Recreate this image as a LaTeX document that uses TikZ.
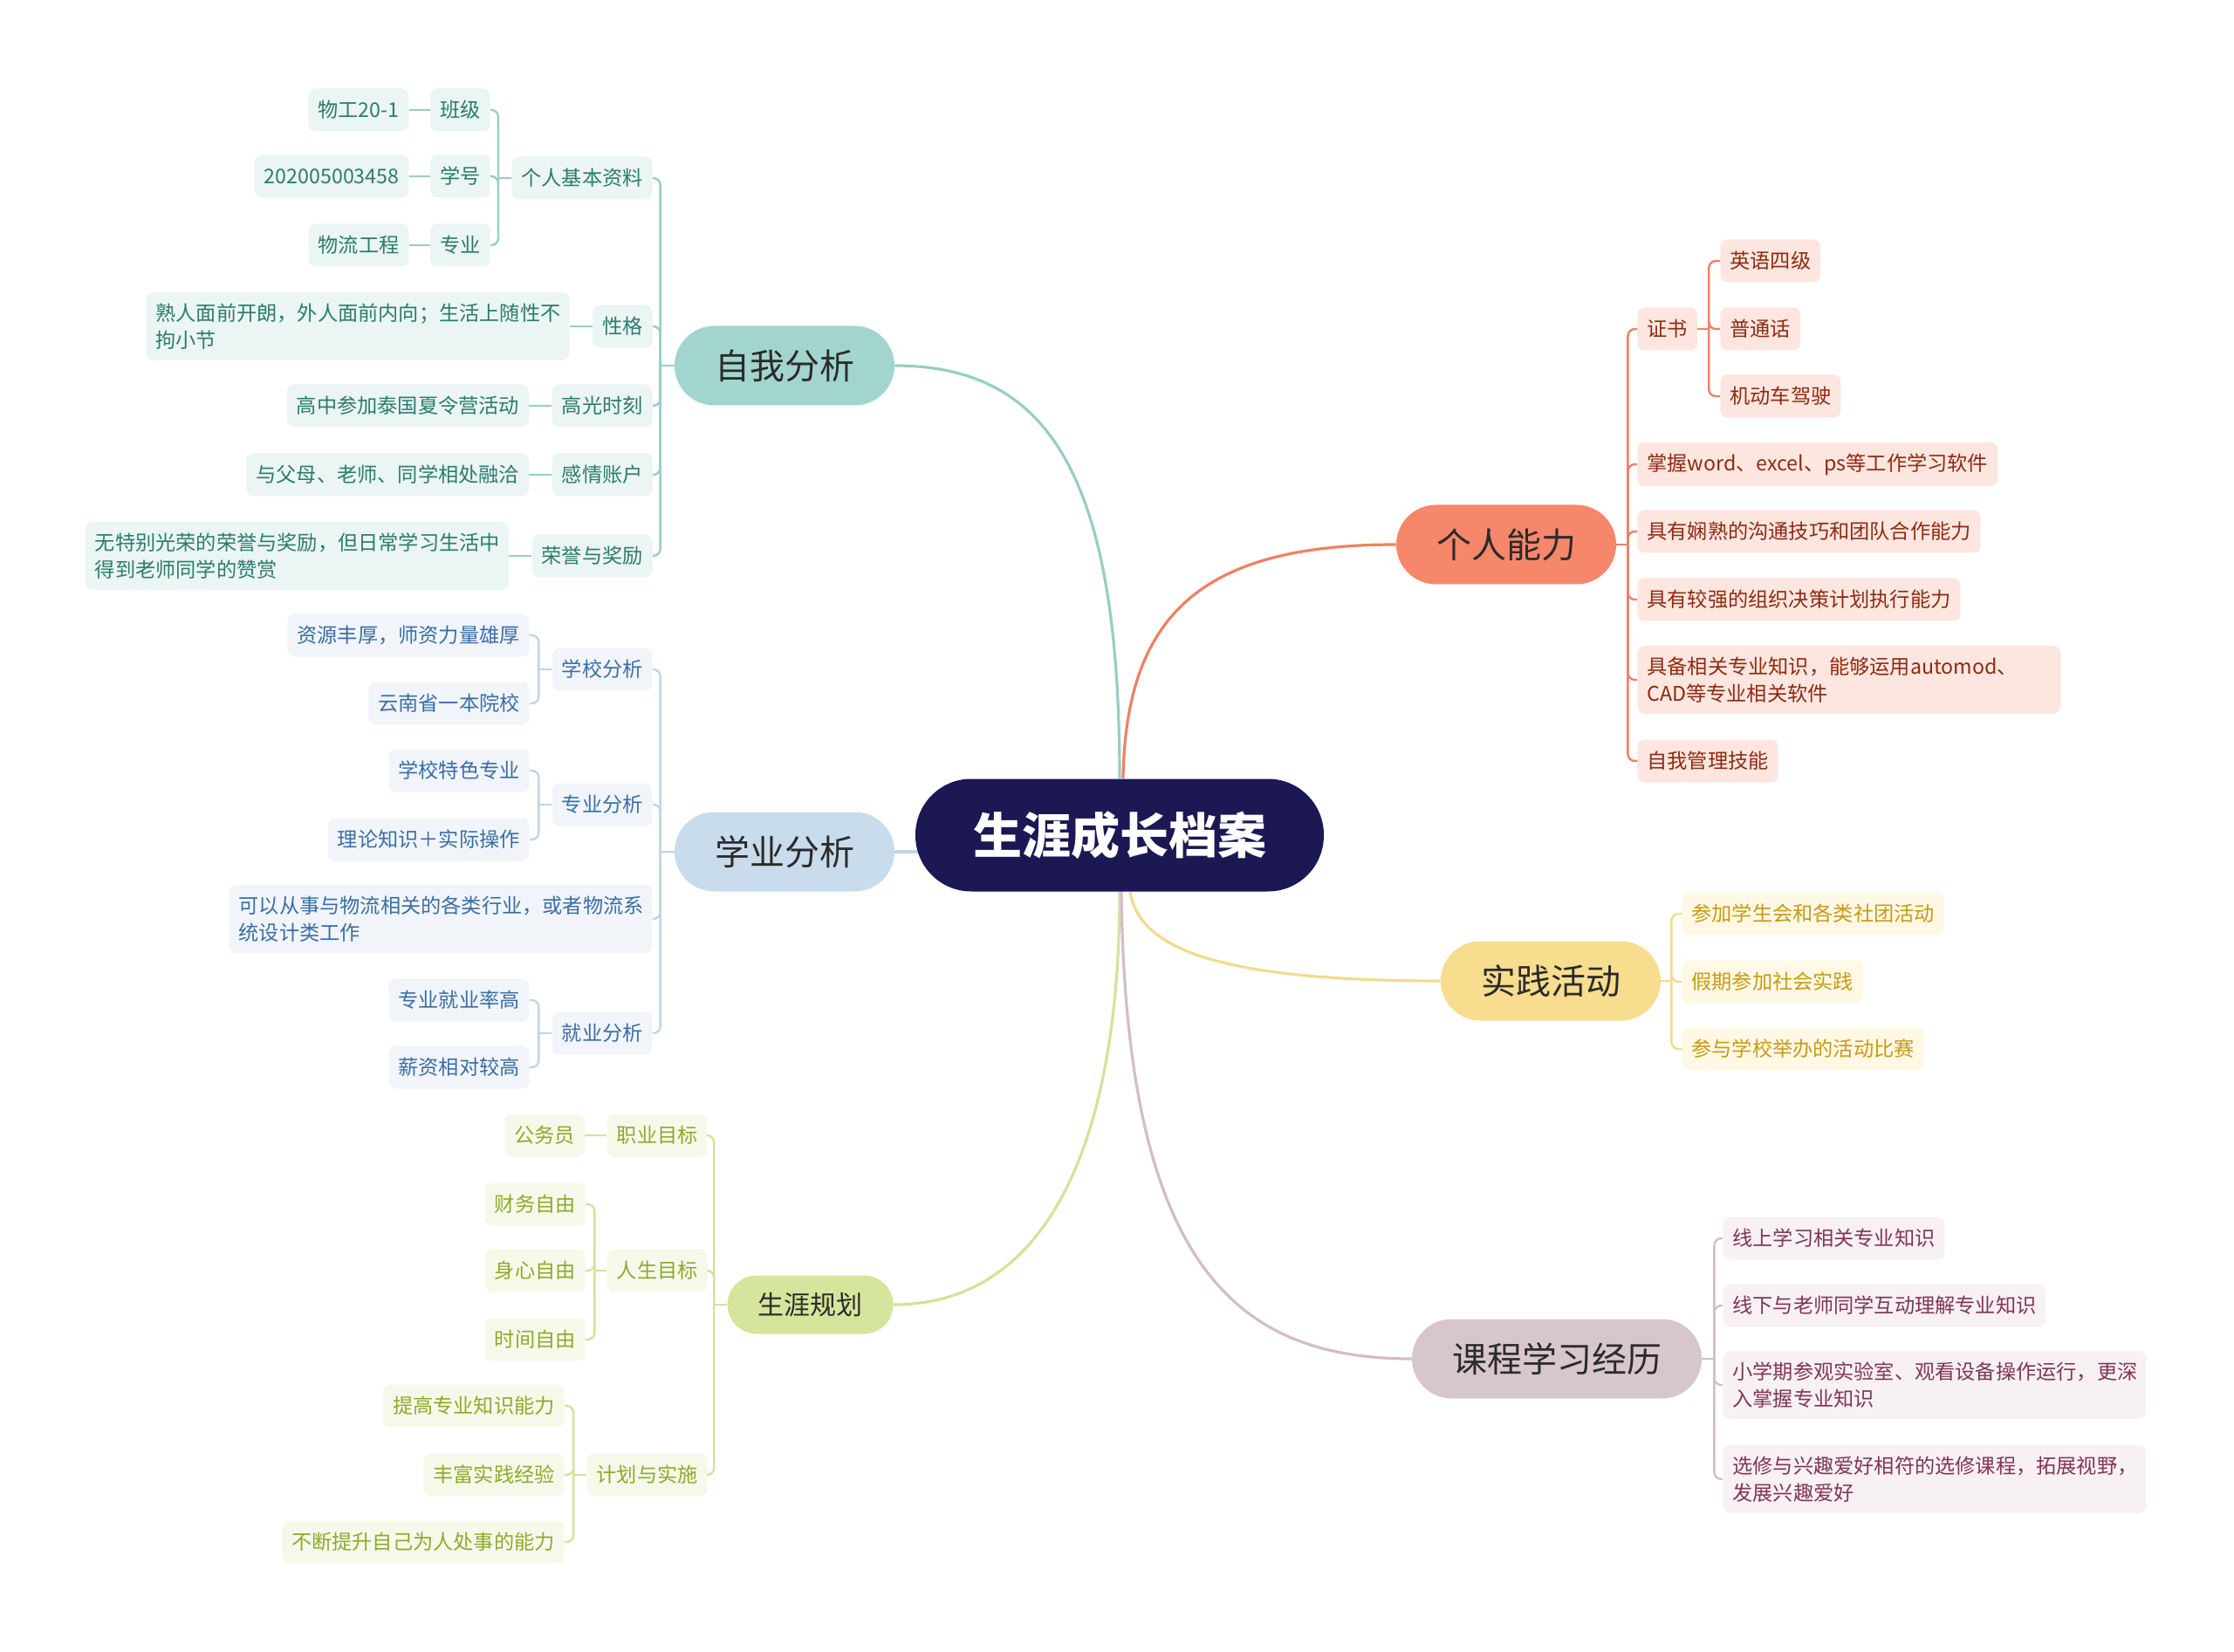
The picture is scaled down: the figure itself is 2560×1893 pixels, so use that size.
\documentclass[tikz,border=0pt]{standalone}
\usepackage{fontspec}
\setmainfont{Noto Sans CJK SC}
\usetikzlibrary{positioning,backgrounds}
\definecolor{rootfill}{HTML}{1B1854}
\definecolor{inkgrey}{HTML}{2B2B2B}
% self analysis (teal)
\definecolor{zwmain}{HTML}{A3D5CF}
\definecolor{zwline}{HTML}{96CEC7}
\definecolor{zwfill}{HTML}{EBF5F3}
\definecolor{zwtext}{HTML}{2B7C6F}
% study analysis (blue)
\definecolor{xymain}{HTML}{C8DCEC}
\definecolor{xyline}{HTML}{C0D5E8}
\definecolor{xyfill}{HTML}{F1F5FA}
\definecolor{xytext}{HTML}{3A6EA5}
% career planning (green)
\definecolor{ghmain}{HTML}{D5E59B}
\definecolor{ghline}{HTML}{D3E39A}
\definecolor{ghfill}{HTML}{F6F9EA}
\definecolor{ghtext}{HTML}{8DAA2C}
% ability (orange)
\definecolor{nlmain}{HTML}{F7876A}
\definecolor{nlline}{HTML}{EE8164}
\definecolor{nlfill}{HTML}{FCE6DF}
\definecolor{nltext}{HTML}{8E2A12}
% practice (yellow)
\definecolor{sjmain}{HTML}{F8DD8F}
\definecolor{sjline}{HTML}{F3DA8C}
\definecolor{sjfill}{HTML}{FEF8E5}
\definecolor{sjtext}{HTML}{C99A14}
% courses (mauve)
\definecolor{kcmain}{HTML}{D8C6CF}
\definecolor{kcline}{HTML}{D2BDC8}
\definecolor{kcfill}{HTML}{F7F1F4}
\definecolor{kctext}{HTML}{803558}
\tikzset{
  root/.style={fill=rootfill,text=white,rounded corners=32pt,minimum height=64.5pt,
               inner xsep=33pt,font=\fontsize{28pt}{32pt}\selectfont\bfseries},
  topic/.style={rounded corners=22.75pt,minimum height=45.5pt,inner xsep=23pt,
                text=inkgrey,font=\fontsize{20pt}{24pt}\selectfont},
  subtopic/.style={rounded corners=16.75pt,minimum height=33.5pt,inner xsep=17.5pt,
                   text=inkgrey,font=\fontsize{15pt}{18pt}\selectfont},
  leaf/.style={rounded corners=4pt,minimum height=24.5pt,inner xsep=5.5pt,inner ysep=6.3pt,
               align=left,font=\fontsize{11.6pt}{15.5pt}\selectfont},
  wide/.style={text width=231.5pt},
  zw/.style={leaf,fill=zwfill,text=zwtext},
  xy/.style={leaf,fill=xyfill,text=xytext},
  gh/.style={leaf,fill=ghfill,text=ghtext},
  nl/.style={leaf,fill=nlfill,text=nltext},
  sj/.style={leaf,fill=sjfill,text=sjtext},
  kc/.style={leaf,fill=kcfill,text=kctext},
  trunk/.style={line width=1.6pt},
  link/.style={line width=1.2pt},
  elbow/.style={link,rounded corners=4pt},
}

\begin{document}
\begin{tikzpicture}[x=0.5pt,y=-0.5pt]
  \useasboundingbox (0,0) rectangle (2560,1893);

  % centre and main topics
  \node[root] (root) at (1283,957) {生涯成长档案};
  \node[topic,fill=zwmain] (ziwo) at (899,419) {自我分析};
  \node[topic,fill=xymain] (xueye) at (899,976) {学业分析};
  \node[subtopic,fill=ghmain,anchor=east] (guihua) at (1024,1495) {生涯规划};
  \node[topic,fill=nlmain] (nengli) at (1726,624) {个人能力};
  \node[topic,fill=sjmain] (shijian) at (1777,1124) {实践活动};
  \node[topic,fill=kcmain] (kecheng) at (1784,1557) {课程学习经历};

  \begin{scope}[on background layer]
    \draw[trunk,zwline] (root.north) .. controls +(0,-350) and +(175,0) .. (ziwo.east);
    \draw[trunk,nlline] ([xshift=2pt]root.north) .. controls +(3,-190) and +(-220,0) .. (nengli.west);
    \draw[trunk,xyline] (xueye.east) -- (xueye.east -| root.center);
    \draw[trunk,ghline] (root.south) .. controls +(0,280) and +(180,0) .. (guihua.east);
    \draw[trunk,sjline] ([xshift=6pt]root.south) .. controls +(10,60) and +(-270,0) .. (shijian.west);
    \draw[trunk,kcline] ([xshift=1pt]root.south) .. controls +(5,430) and +(-200,0) .. (kecheng.west);
  \end{scope}

  % self analysis
  \node[zw,anchor=east] (jbzl) at (748,204) {个人基本资料};
  \node[zw,anchor=east] (xingge) at (748,374) {性格};
  \node[zw,anchor=east] (gaoguang) at (748,465) {高光时刻};
  \node[zw,anchor=east] (ganqing) at (748,544) {感情账户};
  \node[zw,anchor=east] (rongyu) at (748,637) {荣誉与奖励};
  \node[zw,anchor=east] (banji) at (562,126) {班级};
  \node[zw,anchor=east] (xuehao) at (562,202) {学号};
  \node[zw,anchor=east] (zhuanye) at (562,281) {专业};
  \node[zw,left=12pt of banji] (wugong) {物工20-1};
  \node[zw,left=12pt of xuehao] (xhnum) {202005003458};
  \node[zw,left=12pt of zhuanye] (wlgc) {物流工程};
  \node[zw,wide,left=13pt of xingge] (xgtxt) {熟人面前开朗，外人面前内向；生活上随性不\\拘小节};
  \node[zw,left=13pt of gaoguang] (ggtxt) {高中参加泰国夏令营活动};
  \node[zw,left=13pt of ganqing] (gqtxt) {与父母、老师、同学相处融洽};
  \node[zw,wide,left=13pt of rongyu] (rytxt) {无特别光荣的荣誉与奖励，但日常学习生活中\\得到老师同学的赞赏};

  \draw[link,zwline] (ziwo.west) -- ++(-16,0) coordinate (zwspine);
  \foreach \n in {jbzl,xingge,gaoguang,ganqing,rongyu}
    \draw[elbow,zwline] (zwspine) |- (\n.east);
  \draw[link,zwline] (jbzl.west) -- ++(-15,0) coordinate (jbspine);
  \foreach \n in {banji,xuehao,zhuanye}
    \draw[elbow,zwline] (jbspine) |- (\n.east);
  \draw[link,zwline] (banji) -- (wugong);
  \draw[link,zwline] (xuehao) -- (xhnum);
  \draw[link,zwline] (zhuanye) -- (wlgc);
  \draw[link,zwline] (xingge) -- (xgtxt);
  \draw[link,zwline] (gaoguang) -- (ggtxt);
  \draw[link,zwline] (ganqing) -- (gqtxt);
  \draw[link,zwline] (rongyu) -- (rytxt);

  % study analysis
  \node[xy,anchor=east] (xuexiao) at (748,767) {学校分析};
  \node[xy,anchor=east] (zyfx) at (748,922) {专业分析};
  \node[xy,wide,anchor=east] (congshi) at (748,1053) {可以从事与物流相关的各类行业，或者物流系\\统设计类工作};
  \node[xy,anchor=east] (jiuye) at (748,1184) {就业分析};
  \node[xy,anchor=east] (ziyuan) at (607,728) {资源丰厚，师资力量雄厚};
  \node[xy,anchor=east] (yunnan) at (607,806) {云南省一本院校};
  \node[xy,anchor=east] (tese) at (607,883) {学校特色专业};
  \node[xy,anchor=east] (lilun) at (607,962) {理论知识＋实际操作};
  \node[xy,anchor=east] (jylv) at (607,1146) {专业就业率高};
  \node[xy,anchor=east] (xinzi) at (607,1223) {薪资相对较高};

  \draw[link,xyline] (xueye.west) -- ++(-16,0) coordinate (xyspine);
  \foreach \n in {xuexiao,zyfx,congshi,jiuye}
    \draw[elbow,xyline] (xyspine) |- (\n.east);
  \draw[link,xyline] (xuexiao.west) -- ++(-15,0) coordinate (xxspine);
  \foreach \n in {ziyuan,yunnan}
    \draw[elbow,xyline] (xxspine) |- (\n.east);
  \draw[link,xyline] (zyfx.west) -- ++(-15,0) coordinate (zyspine);
  \foreach \n in {tese,lilun}
    \draw[elbow,xyline] (zyspine) |- (\n.east);
  \draw[link,xyline] (jiuye.west) -- ++(-15,0) coordinate (jyspine);
  \foreach \n in {jylv,xinzi}
    \draw[elbow,xyline] (jyspine) |- (\n.east);

  % career planning
  \node[gh,anchor=east] (zhiye) at (811,1301) {职业目标};
  \node[gh,anchor=east] (rensheng) at (811,1456) {人生目标};
  \node[gh,anchor=east] (jihua) at (811,1690) {计划与实施};
  \node[gh,left=12.5pt of zhiye] (gwy) {公务员};
  \node[gh,anchor=east] (caiwu) at (671,1380) {财务自由};
  \node[gh,anchor=east] (shenxin) at (671,1456) {身心自由};
  \node[gh,anchor=east] (shijianzy) at (671,1535) {时间自由};
  \node[gh,anchor=east] (tigao) at (647,1611) {提高专业知识能力};
  \node[gh,anchor=east] (fengfu) at (647,1690) {丰富实践经验};
  \node[gh,anchor=east] (buduan) at (647,1767) {不断提升自己为人处事的能力};

  \draw[link,ghline] (guihua.west) -- ++(-15,0) coordinate (ghspine);
  \foreach \n in {zhiye,rensheng,jihua}
    \draw[elbow,ghline] (ghspine) |- (\n.east);
  \draw[link,ghline] (zhiye) -- (gwy);
  \draw[link,ghline] (rensheng.west) -- ++(-14,0) coordinate (rsspine);
  \foreach \n in {caiwu,shenxin,shijianzy}
    \draw[elbow,ghline] (rsspine) |- (\n.east);
  \draw[link,ghline] (jihua.west) -- ++(-15,0) coordinate (jhspine);
  \foreach \n in {tigao,fengfu,buduan}
    \draw[elbow,ghline] (jhspine) |- (\n.east);

  % personal ability
  \node[nl,anchor=west] (zhengshu) at (1876,377) {证书};
  \node[nl,anchor=west] (zhangwo) at (1876,532) {掌握word、excel、ps等工作学习软件};
  \node[nl,anchor=west] (goutong) at (1876,609) {具有娴熟的沟通技巧和团队合作能力};
  \node[nl,anchor=west] (zuzhi) at (1876,687) {具有较强的组织决策计划执行能力};
  \node[nl,wide,anchor=west] (zhuanzs) at (1876,779) {具备相关专业知识，能够运用automod、\\CAD等专业相关软件};
  \node[nl,anchor=west] (guanli) at (1876,872) {自我管理技能};
  \node[nl,anchor=west] (yingyu) at (1971,299) {英语四级};
  \node[nl,anchor=west] (putong) at (1971,377) {普通话};
  \node[nl,anchor=west] (jidong) at (1971,454) {机动车驾驶};

  \draw[link,nlline] (nengli.east) -- ++(13,0) coordinate (nlspine);
  \foreach \n in {zhengshu,zhangwo,goutong,zuzhi,zhuanzs,guanli}
    \draw[elbow,nlline] (nlspine) |- (\n.west);
  \draw[link,nlline] (zhengshu.east) -- ++(13,0) coordinate (zsspine);
  \foreach \n in {yingyu,putong,jidong}
    \draw[elbow,nlline] (zsspine) |- (\n.west);

  % practice
  \node[sj,anchor=west] (xshui) at (1927,1047) {参加学生会和各类社团活动};
  \node[sj,anchor=west] (shehui) at (1927,1125) {假期参加社会实践};
  \node[sj,anchor=west] (bisai) at (1927,1202) {参与学校举办的活动比赛};

  \draw[link,sjline] (shijian.east) -- ++(12,0) coordinate (sjspine);
  \foreach \n in {xshui,shehui,bisai}
    \draw[elbow,sjline] (sjspine) |- (\n.west);

  % courses
  \node[kc,anchor=west] (xianshang) at (1974,1419) {线上学习相关专业知识};
  \node[kc,anchor=west] (xianxia) at (1974,1496) {线下与老师同学互动理解专业知识};
  \node[kc,wide,anchor=west] (xiaoxq) at (1974,1587) {小学期参观实验室、观看设备操作运行，更深\\入掌握专业知识};
  \node[kc,wide,anchor=west] (xuanxiu) at (1974,1695) {选修与兴趣爱好相符的选修课程，拓展视野，\\发展兴趣爱好};

  \draw[link,kcline] (kecheng.east) -- ++(14,0) coordinate (kcspine);
  \foreach \n in {xianshang,xianxia,xiaoxq,xuanxiu}
    \draw[elbow,kcline] (kcspine) |- (\n.west);
\end{tikzpicture}
\end{document}
